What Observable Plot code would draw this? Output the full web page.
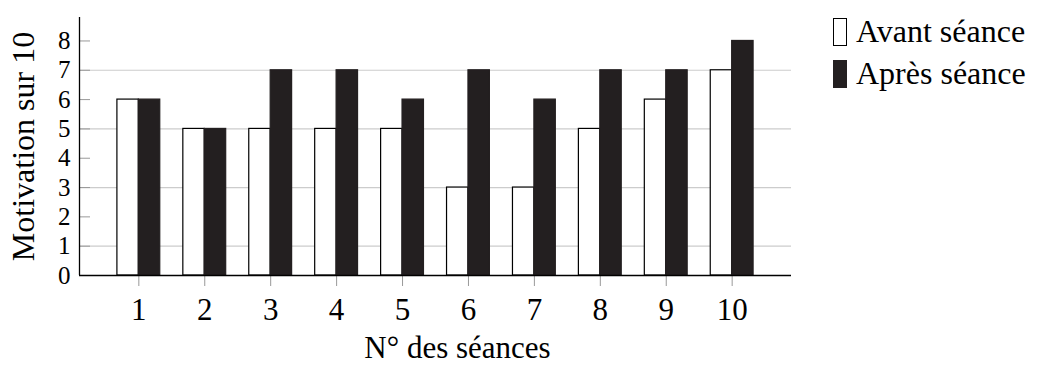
<!DOCTYPE html>
<html>
<head>
<meta charset="utf-8">
<script src="https://cdn.jsdelivr.net/npm/d3@7"></script>
<script src="https://cdn.jsdelivr.net/npm/@observablehq/plot@0.6"></script>
<style>
  html, body { margin: 0; padding: 0; background: #fff; }
  #wrap { position: relative; width: 1037px; height: 365px; font-family: "Liberation Serif", "DejaVu Serif", serif; }
  #wrap svg text { font-family: "Liberation Serif", "DejaVu Serif", serif; }
  #legend { position: absolute; left: 833px; top: 8px; font-size: 32px; color: #000; font-family: "Liberation Serif", "DejaVu Serif", serif; }
  .row { display: flex; align-items: flex-end; height: 42px; }
  .sw { width: 14px; height: 28px; box-sizing: border-box; margin-right: 9px; margin-bottom: 4px; }
</style>
</head>
<body>
<div id="wrap"></div>
<script>
const seances = [1, 2, 3, 4, 5, 6, 7, 8, 9, 10];
const avant = [6, 5, 5, 5, 5, 3, 3, 5, 6, 7];
const apres = [6, 5, 7, 7, 6, 7, 6, 7, 7, 8];
const series = ["Avant séance", "Après séance"];
const yTicks = [0, 1, 2, 3, 4, 5, 6, 7, 8];
const gridTicks = [1, 3, 5, 7];
const colors = ["#ffffff", "#231f20"];

const W = 0.325; // bar width in x units
const data = [];
seances.forEach((s, i) => {
  data.push({seance: s, serie: series[0], v: avant[i]});
  data.push({seance: s, serie: series[1], v: apres[i]});
});

const FONT = "'Liberation Serif', 'DejaVu Serif', serif";

const plot = Plot.plot({
  width: 1037,
  height: 365,
  marginLeft: 79,
  marginRight: 246,
  marginTop: 17,
  marginBottom: 90,
  style: {fontFamily: FONT, background: "#fff", color: "#000"},
  x: {domain: [0.1, 10.9], axis: null},
  y: {domain: [0, 8.8], axis: null},
  color: {domain: series, range: colors},
  marks: [
    Plot.gridY(gridTicks, {stroke: "#cccccc", strokeOpacity: 1, strokeWidth: 1.2}),
    Plot.rectY(data, {
      x1: d => d.serie === series[0] ? d.seance - W : d.seance,
      x2: d => d.serie === series[0] ? d.seance : d.seance + W,
      y1: 0,
      y2: "v",
      fill: "serie",
      stroke: d => d.serie === series[0] ? "#000" : "#231f20",
      strokeWidth: 1.2
    }),
    Plot.axisY(yTicks, {tickSize: -11, tickPadding: 20, stroke: "#999", fill: "#000", fontSize: 25, label: null}),
    Plot.axisX(seances, {tickSize: 11, tickPadding: 11, stroke: "#999", fill: "#000", fontSize: 31, label: null}),
    Plot.ruleX([0.1], {stroke: "#000", strokeWidth: 1.3}),
    Plot.ruleY([0], {stroke: "#000", strokeWidth: 1.3}),
    Plot.text(["N° des séances"], {frameAnchor: "bottom", dy: 73, dx: 22, lineAnchor: "middle", textAnchor: "middle", fontSize: 31, fill: "#000"}),
    Plot.text(["Motivation sur 10"], {frameAnchor: "left", dx: -46, rotate: -90, lineAnchor: "bottom", textAnchor: "middle", fontSize: 32, fill: "#000"})
  ]
});

const wrap = document.getElementById("wrap");
wrap.appendChild(plot);

const legend = document.createElement("div");
legend.id = "legend";
series.forEach((s, i) => {
  const row = document.createElement("div");
  row.className = "row";
  const sw = document.createElement("div");
  sw.className = "sw";
  sw.style.background = colors[i];
  sw.style.border = i === 0 ? "1px solid #000" : "none";
  const t = document.createElement("span");
  t.textContent = s;
  row.appendChild(sw);
  row.appendChild(t);
  legend.appendChild(row);
});
wrap.appendChild(legend);
</script>
</body>
</html>
